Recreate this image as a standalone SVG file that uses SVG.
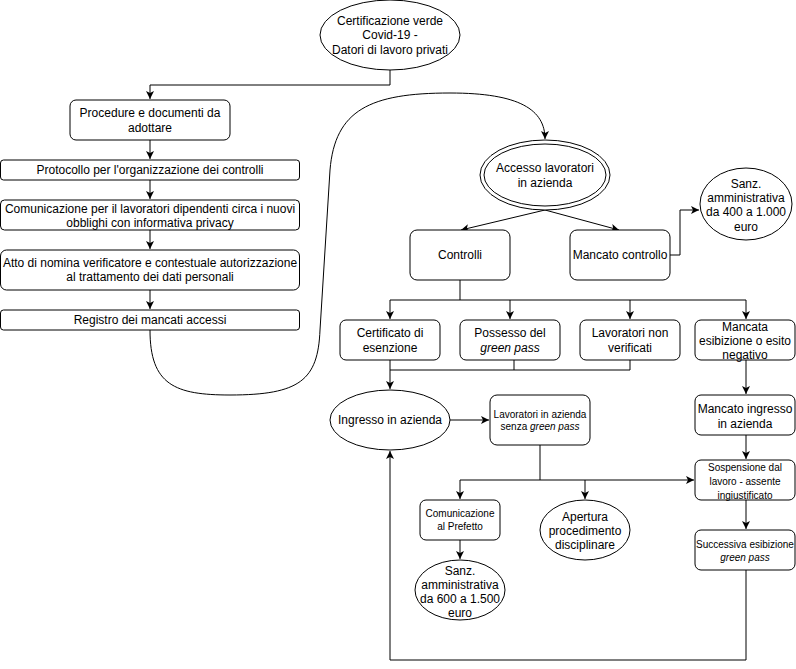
<svg xmlns="http://www.w3.org/2000/svg" width="796" height="669" viewBox="0 0 796 669">
<style>
.n{fill:#fff;stroke:#000;stroke-width:1}
.c{fill:none;stroke:#000;stroke-width:1}
text{font-family:"Liberation Sans",Arial,sans-serif;font-size:12px;fill:#000;text-anchor:middle}
.s{font-size:10px}
.m{font-size:13px}
.i{font-style:italic}
</style>
<defs>
<marker id="a" markerWidth="9" markerHeight="8" refX="8" refY="4" orient="auto" markerUnits="userSpaceOnUse">
<path d="M0,0 L8,4 L0,8 L2,4 z" fill="#000"/>
</marker>
</defs>
<rect width="796" height="669" fill="#fff"/>
<g id="connectors">
<path class="c" marker-end="url(#a)" d="M390,70 V85 H150 V99"/>
<path class="c" marker-end="url(#a)" d="M150,140 V159"/>
<path class="c" marker-end="url(#a)" d="M150,180 V199"/>
<path class="c" marker-end="url(#a)" d="M150,230 V249"/>
<path class="c" marker-end="url(#a)" d="M150,290 V309"/>
<path class="c" marker-end="url(#a)" d="M150,330 C150,385 175,395 230,395 C300,395 318,380 320,330 L330,170 C335,110 370,93 450,93 C520,93 545,110 545,139"/>
<path class="c" marker-end="url(#a)" d="M545,210 L461,230"/>
<path class="c" marker-end="url(#a)" d="M545,210 L619,230"/>
<path class="c" marker-end="url(#a)" d="M670,255 H680 V210 H699"/>
<path class="c" d="M460,280 V300 M390,300 H746"/>
<path class="c" marker-end="url(#a)" d="M390,300 V319"/>
<path class="c" marker-end="url(#a)" d="M510,300 V319"/>
<path class="c" marker-end="url(#a)" d="M630,300 V319"/>
<path class="c" marker-end="url(#a)" d="M746,300 V319"/>
<path class="c" d="M514,360 V370 M630,360 V370 H390"/>
<path class="c" marker-end="url(#a)" d="M390,360 V389"/>
<path class="c" marker-end="url(#a)" d="M450,420 H489"/>
<path class="c" d="M540,445 V480 M460,480 H540"/>
<path class="c" marker-end="url(#a)" d="M540,480 H694"/>
<path class="c" marker-end="url(#a)" d="M460,480 V499"/>
<path class="c" marker-end="url(#a)" d="M585,480 V499"/>
<path class="c" marker-end="url(#a)" d="M460,540 V559"/>
<path class="c" marker-end="url(#a)" d="M746,360 V394"/>
<path class="c" marker-end="url(#a)" d="M746,435 V459"/>
<path class="c" marker-end="url(#a)" d="M746,500 V529"/>
<path class="c" marker-end="url(#a)" d="M746,570 V660 H390 V451"/>
</g>
<g id="n-cert">
<ellipse class="n" cx="390" cy="35" rx="70" ry="35"/>
<text x="390" y="25">Certificazione verde</text>
<text x="390" y="39">Covid-19 -</text>
<text x="390" y="54">Datori di lavoro privati</text>
</g>
<g id="n-procedure">
<rect class="n" x="70" y="100" width="160" height="40" rx="6"/>
<text x="150" y="117">Procedure e documenti da</text>
<text x="150" y="132">adottare</text>
</g>
<g id="n-protocollo">
<rect class="n" x="0.5" y="160" width="299" height="20" rx="3"/>
<text x="150" y="174">Protocollo per l'organizzazione dei controlli</text>
</g>
<g id="n-comunicazione">
<rect class="n" x="0.5" y="200" width="299" height="30" rx="4"/>
<text x="150" y="213">Comunicazione per il lavoratori dipendenti circa i nuovi</text>
<text x="150" y="227">obblighi con informativa privacy</text>
</g>
<g id="n-atto">
<rect class="n" x="0.5" y="250" width="299" height="40" rx="6"/>
<text x="150" y="267">Atto di nomina verificatore e contestuale autorizzazione</text>
<text x="150" y="281">al trattamento dei dati personali</text>
</g>
<g id="n-registro">
<rect class="n" x="0.5" y="310" width="299" height="20" rx="3"/>
<text x="150" y="324">Registro dei mancati accessi</text>
</g>
<g id="n-accesso">
<ellipse class="n" cx="545" cy="175" rx="65" ry="35"/>
<ellipse class="n" cx="545" cy="175" rx="61" ry="31"/>
<text x="545" y="172">Accesso lavoratori</text>
<text x="545" y="187">in azienda</text>
</g>
<g id="n-controlli">
<rect class="n" x="410" y="230" width="100" height="50" rx="7"/>
<text x="460" y="259">Controlli</text>
</g>
<g id="n-mancato-controllo">
<rect class="n" x="570" y="230" width="100" height="50" rx="7"/>
<text x="620" y="259">Mancato controllo</text>
</g>
<g id="n-sanz400">
<ellipse class="n" cx="746" cy="204" rx="46" ry="36"/>
<text x="746" y="188">Sanz.</text>
<text x="746" y="202">amministrativa</text>
<text x="746" y="216">da 400 a 1.000</text>
<text x="746" y="231">euro</text>
</g>
<g id="n-certificato">
<rect class="n" x="340" y="320" width="100" height="40" rx="6"/>
<text x="390" y="337">Certificato di</text>
<text x="390" y="352">esenzione</text>
</g>
<g id="n-possesso">
<rect class="n" x="460" y="320" width="100" height="40" rx="6"/>
<text x="510" y="337">Possesso del</text>
<text x="510" y="352" class="i">green pass</text>
</g>
<g id="n-non-verificati">
<rect class="n" x="580" y="320" width="100" height="40" rx="6"/>
<text x="630" y="337">Lavoratori non</text>
<text x="630" y="352">verificati</text>
</g>
<g id="n-mancata">
<rect class="n" x="695" y="320" width="100" height="40" rx="6"/>
<text x="745" y="331">Mancata</text>
<text x="745" y="345">esibizione o esito</text>
<text x="745" y="359">negativo</text>
</g>
<g id="n-ingresso">
<ellipse class="n" cx="390" cy="420" rx="60" ry="30"/>
<text x="390" y="424">Ingresso in azienda</text>
</g>
<g id="n-senza">
<rect class="n" x="490" y="395" width="100" height="50" rx="7"/>
<text x="540" y="418" class="s">Lavoratori in azienda</text>
<text x="540" y="430" class="s">senza <tspan class="i">green pass</tspan></text>
</g>
<g id="n-mancato-ingresso">
<rect class="n" x="695" y="395" width="100" height="40" rx="6"/>
<text x="745" y="413">Mancato ingresso</text>
<text x="745" y="428">in azienda</text>
</g>
<g id="n-sospensione">
<rect class="n" x="695" y="460" width="100" height="40" rx="6"/>
<text x="745" y="471" class="s">Sospensione dal</text>
<text x="745" y="485" class="s">lavoro - assente</text>
<text x="745" y="499" class="s">ingiustificato</text>
</g>
<g id="n-prefetto">
<rect class="n" x="420" y="500" width="80" height="40" rx="6"/>
<text x="460" y="517" class="s">Comunicazione</text>
<text x="460" y="530" class="s">al Prefetto</text>
</g>
<g id="n-apertura">
<ellipse class="n" cx="585" cy="530" rx="45" ry="30"/>
<text x="585" y="521">Apertura</text>
<text x="585" y="535">procedimento</text>
<text x="585" y="549">disciplinare</text>
</g>
<g id="n-sanz600">
<ellipse class="n" cx="460" cy="590" rx="45" ry="30"/>
<text x="460" y="575">Sanz.</text>
<text x="460" y="589">amministrativa</text>
<text x="460" y="603">da 600 a 1.500</text>
<text x="460" y="617">euro</text>
</g>
<g id="n-successiva">
<rect class="n" x="695" y="530" width="100" height="40" rx="6"/>
<text x="745" y="548" class="s">Successiva esibizione</text>
<text x="745" y="561" class="s i">green pass</text>
</g>
</svg>
